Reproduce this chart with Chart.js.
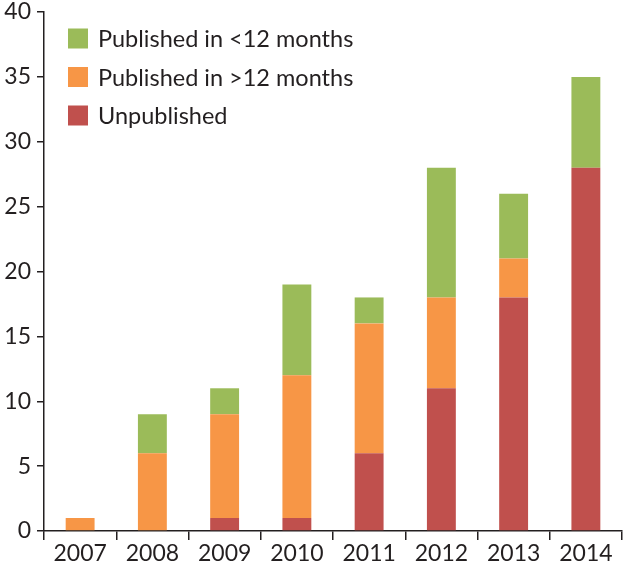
<!DOCTYPE html>
<html>
<head>
<meta charset="utf-8">
<script src="https://cdn.jsdelivr.net/npm/chart.js@4/dist/chart.umd.min.js"></script>
<style>
  html, body { margin: 0; padding: 0; background: #fff; }
  #wrap { width: 626px; height: 571px; position: relative; }
</style>
</head>
<body>
<div id="wrap"><canvas id="chart"></canvas></div>
<script>
const years = ['2007', '2008', '2009', '2010', '2011', '2012', '2013', '2014']
const unpublished = [0, 0, 1, 1, 6, 11, 18, 28]
const publishedLate = [1, 6, 8, 11, 10, 7, 3, 0]
const publishedEarly = [0, 3, 2, 7, 2, 10, 5, 7]
const yTicks = [0, 5, 10, 15, 20, 25, 30, 35, 40]

const textColor = '#231f20'
const fontFamily = "Lato, 'Open Sans', 'Noto Sans', sans-serif"

// legend drawn inside the plot, top-left, in reverse stacking order
const insideLegend = {
    id: 'insideLegend',
    afterDraw(chart) {
        const ctx = chart.ctx
        const sets = chart.data.datasets.slice().reverse()
        ctx.save()
        ctx.font = '23.5px ' + fontFamily
        ctx.textBaseline = 'middle'
        ctx.textAlign = 'left'
        sets.forEach((ds, i) => {
            const y = 38.5 + i * 38.5
            ctx.fillStyle = ds.backgroundColor
            ctx.fillRect(68, y - 10, 20, 20)
            ctx.fillStyle = textColor
            ctx.fillText(ds.label, 98, y + 1)
        })
        ctx.restore()
    }
}

const axisFont = { family: fontFamily, size: 23 }

new Chart(document.getElementById('chart'), {
    type: 'bar',
    data: {
        labels: years,
        datasets: [
            { label: 'Unpublished', data: unpublished, backgroundColor: '#c0504d' },
            { label: 'Published in >12 months', data: publishedLate, backgroundColor: '#f79646' },
            { label: 'Published in <12 months', data: publishedEarly, backgroundColor: '#9bbb59' }
        ]
    },
    options: {
        responsive: true,
        maintainAspectRatio: false,
        animation: false,
        devicePixelRatio: 1,
        layout: { padding: { top: 12, right: 4, left: 0, bottom: 0 } },
        datasets: { bar: { barPercentage: 0.4, categoryPercentage: 1, borderWidth: 0 } },
        plugins: {
            legend: { display: false },
            tooltip: { enabled: false }
        },
        scales: {
            x: {
                stacked: true,
                grid: { display: true, drawOnChartArea: false, drawTicks: true, tickLength: 9, color: '#231f20', lineWidth: 1.5 },
                border: { display: true, color: '#231f20', width: 1.5 },
                ticks: { color: textColor, font: axisFont, padding: 0, maxRotation: 0 },
                afterFit: s => { s.height = 40 }
            },
            y: {
                stacked: true,
                min: 0,
                max: 40,
                afterBuildTicks: s => { s.ticks = yTicks.map(v => ({ value: v })) },
                grid: { display: true, drawOnChartArea: false, drawTicks: true, tickLength: 7, color: '#231f20', lineWidth: 1.5 },
                border: { display: true, color: '#231f20', width: 1.5 },
                ticks: { color: textColor, font: { family: fontFamily, size: 23, lineHeight: 0.5 }, padding: 6 },
                afterFit: s => { s.width = 44 }
            }
        }
    },
    plugins: [insideLegend]
})
</script>
</body>
</html>
